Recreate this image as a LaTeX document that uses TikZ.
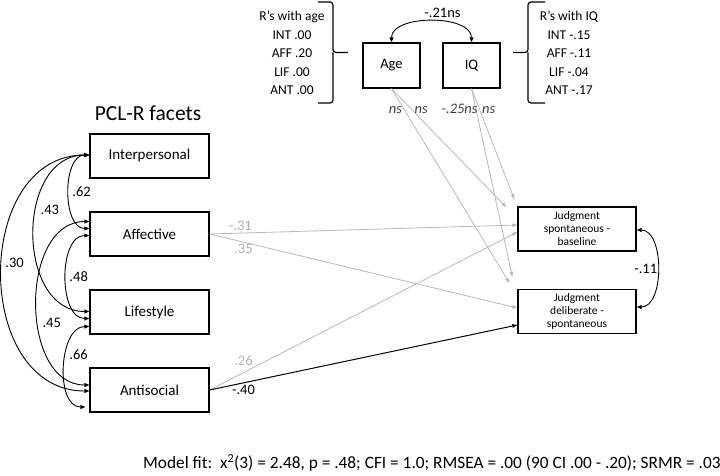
\documentclass[tikz,border=0pt]{standalone}
\usepackage{fontspec}
\setmainfont{Carlito}
\usetikzlibrary{positioning,arrows.meta}

\begin{document}
\begin{tikzpicture}[x=1pt,y=1pt,node distance=78pt,on grid,
    facet/.style={draw,line width=1.3pt,minimum width=119pt,minimum height=44pt,font=\fontsize{15}{17}\selectfont},
    pred/.style={draw,line width=1.3pt,minimum width=57pt,minimum height=45pt,font=\fontsize{14.5}{17}\selectfont},
    judg/.style={draw,line width=1.3pt,minimum width=118pt,minimum height=44pt,align=center,font=\fontsize{11.5}{13}\selectfont},
    lbl/.style={font=\fontsize{14.5}{17}\selectfont,inner sep=2pt},
    nsl/.style={lbl,black!75,font=\fontsize{14.5}{17}\itshape},
    cov/.style={line width=0.9pt,{Triangle[length=5pt,width=4pt]}-{Triangle[length=5pt,width=4pt]}},
    reg/.style={black!28,line width=0.8pt,-{Triangle[length=5pt,width=3.5pt]}},
    brc/.style={line width=1.2pt,rounded corners=3pt}]
   \useasboundingbox (0,0) rectangle (720,475);

   % PCL-R facets
   \node[font=\fontsize{21.5}{24}\selectfont] (title) at (148,362) {PCL-R facets};
   \node[facet] (f_int) at (149.5,319) {Interpersonal};
   \node[facet] (f_aff) [below=of f_int] {Affective};
   \node[facet] (f_lif) [below=of f_aff] {Lifestyle};
   \node[facet] (f_ant) [below=of f_lif] {Antisocial};

   % covariates
   \node[pred] (v_age) at (391.5,409.5) {Age};
   \node[pred] (v_iq) [right=80pt of v_age] {IQ};
   \node[lbl,align=center,font=\fontsize{13.5}{18.5}\selectfont] (r_age) at (292,422)
     {R's with age\\INT .00\\AFF .20\\LIF .00\\ANT .00};
   \node[lbl,align=center,font=\fontsize{13.5}{18.5}\selectfont] (r_iq) at (569,422)
     {R's with IQ\\INT -.15\\AFF -.11\\LIF -.04\\ANT -.17};
   \draw[brc] (318,473) -| (333,422.5) -- (348,422.5);
   \draw[brc] (318,372) -| (333,422.5);
   \draw[brc] (545,473) -| (528,422.5) -- (513,422.5);
   \draw[brc] (545,372) -| (528,422.5);

   % outcomes
   \node[judg] (j_sb) at (577,246) {Judgment\\spontaneous -\\baseline};
   \node[judg] (j_ds) [below=82.5pt of j_sb] {Judgment\\deliberate -\\spontaneous};

   % correlations among facets
   \path[cov]
    ([yshift=1pt]f_int.west) edge [out=180,in=180,looseness=0.95] node[lbl,pos=0.5,right,xshift=1pt] {.62} ([yshift=5.5pt]f_aff.west)
    ([yshift=1pt]f_int.west) edge [out=180,in=180,looseness=1.21] node[lbl,pos=0.4,right,xshift=2pt] {.43} ([yshift=0.5pt]f_lif.west)
    ([yshift=1pt]f_int.west) edge [out=180,in=180,looseness=1.27] node[lbl,pos=0.47,right,xshift=1pt] {.30} ([yshift=-1pt]f_ant.west)
    ([yshift=-1.5pt]f_aff.west) edge [out=180,in=180,looseness=0.96] node[lbl,pos=0.5,right,xshift=1pt] {.48} ([yshift=-6.5pt]f_lif.west)
    ([yshift=12.5pt]f_aff.west) edge [out=180,in=180,looseness=1.1] node[lbl,pos=0.58,right,xshift=2pt] {.45} ([yshift=5pt]f_ant.west)
    ([yshift=-14.5pt]f_lif.west) edge [out=180,in=180,looseness=0.97] node[lbl,pos=0.4,right,xshift=1pt] {.66} ([xshift=-4pt,yshift=-17pt]f_ant.west);
   \path[cov]
    (v_age.north) edge [out=90,in=90,looseness=0.9] node[lbl,above=1pt,xshift=11pt] {-.21ns} (v_iq.north)
    ([yshift=-1pt]j_sb.east) edge [out=0,in=0,looseness=0.93] node[lbl,left,xshift=2pt] {-.11} ([yshift=4.5pt]j_ds.east);

   % regressions
   \path[reg]
    (f_aff.east) edge node[lbl,pos=0.1,above,black!30] {-.31} ([yshift=4pt]j_sb.west)
    (f_aff.east) edge node[lbl,pos=0.11,below,black!30] {.35} ([yshift=3.5pt]j_ds.west)
    (f_ant.east) edge node[lbl,pos=0.11,above,yshift=5pt,black!30] {.26} ([yshift=-3pt]j_sb.west)
    (v_age.south) edge node[nsl,pos=0.18,right] {ns} ([xshift=-11pt,yshift=-1pt]j_sb.north west)
    (v_age.south) edge node[nsl,pos=0.11,left] {ns} ([xshift=-8pt,yshift=6pt]j_ds.north west)
    (v_iq.south) edge node[nsl,pos=0.19,right] {ns} ([xshift=-3pt,yshift=7pt]j_sb.north west)
    (v_iq.south) edge node[nsl,pos=0.11,left,xshift=4pt] {-.25ns} ([xshift=-5pt,yshift=12pt]j_ds.north west);
   \path[reg,black,line width=1pt]
    (f_ant.east) edge node[lbl,pos=0.11,below] {-.40} ([yshift=-13.5pt]j_ds.west);

   \node[lbl,anchor=west,font=\fontsize{17.3}{20}\selectfont] (fit) at (141,12)
     {Model fit:\ \ x\textsuperscript{2}(3) = 2.48, p = .48; CFI = 1.0; RMSEA = .00 (90 CI .00 - .20); SRMR = .03};
\end{tikzpicture}
\end{document}
